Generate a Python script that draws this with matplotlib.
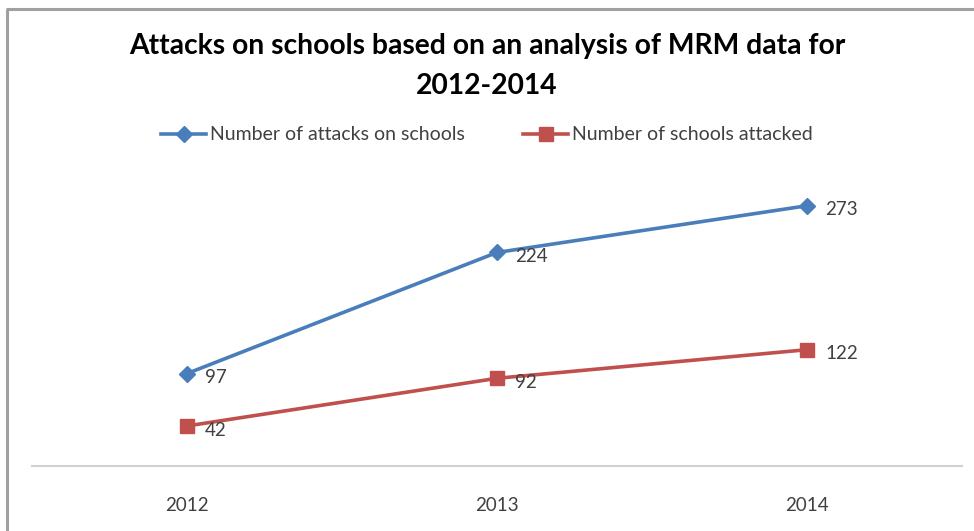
import matplotlib
matplotlib.use("Agg")
import matplotlib.pyplot as plt
from matplotlib.lines import Line2D

years = ["2012", "2013", "2014"]
attacks = [97, 224, 273]
schools = [42, 92, 122]
series_names = ["Number of attacks on schools", "Number of schools attacked"]
title = "Attacks on schools based on an analysis of MRM data for\n2012-2014"

W, H = 974, 531
fig = plt.figure(figsize=(W / 100, H / 100), dpi=100)
fig.patch.set_facecolor("white")

# outer chart border (left and top visible)
border = "#a0a0a0"
fig.add_artist(Line2D([7 / W, 7 / W], [0, 1 - 9 / H], transform=fig.transFigure,
                      color=border, lw=2.2, solid_capstyle="butt"))
fig.add_artist(Line2D([6 / W, 1], [1 - 9 / H, 1 - 9 / H], transform=fig.transFigure,
                      color=border, lw=2.2, solid_capstyle="butt"))

ax_left, ax_right = 32, 962
ax_bottom, ax_top = 466, 180
ax = fig.add_axes([ax_left / W, 1 - ax_bottom / H, (ax_right - ax_left) / W, (ax_bottom - ax_top) / H])
x = list(range(len(years)))
blue = "#4a7ebb"
red = "#c0504d"
l1, = ax.plot(x, attacks, color=blue, lw=2.6, marker="D", ms=8, label=series_names[0])
l2, = ax.plot(x, schools, color=red, lw=2.6, marker="s", ms=10, label=series_names[1])
ax.set_xlim(-0.5, 2.5)
ax.set_ylim(0, 300)
for s in ["top", "right", "left"]:
    ax.spines[s].set_visible(False)
ax.spines["bottom"].set_color("#d0d0d0")
ax.spines["bottom"].set_linewidth(1.5)
ax.set_yticks([])
ax.set_xticks(x)
ax.set_xticklabels(years, fontsize=13.5, color="#404040", family="Lato")
ax.tick_params(axis="x", length=0, pad=22)

for xi, v in zip(x, attacks):
    ax.annotate(str(v), (xi, v), xytext=(13, -3), textcoords="offset points",
                ha="left", va="center", fontsize=13.5, color="#404040", family="Lato")
for xi, v in zip(x, schools):
    ax.annotate(str(v), (xi, v), xytext=(13, -3), textcoords="offset points",
                ha="left", va="center", fontsize=13.5, color="#404040", family="Lato")

fig.text(0.5, 1 - 66 / H, title, ha="center", va="center", fontsize=20.3,
         fontweight="bold", family="Lato", linespacing=1.7, color="black")

leg = fig.legend(handles=[l1, l2], loc="center", bbox_to_anchor=(0.5, 1 - 135 / H),
                 ncol=2, frameon=False, handlelength=2.3, handletextpad=0.2,
                 columnspacing=3.0, prop={"family": "Lato", "size": 14})
for t in leg.get_texts():
    t.set_color("#404040")

fig.savefig("out.png", dpi=100, facecolor="white")
